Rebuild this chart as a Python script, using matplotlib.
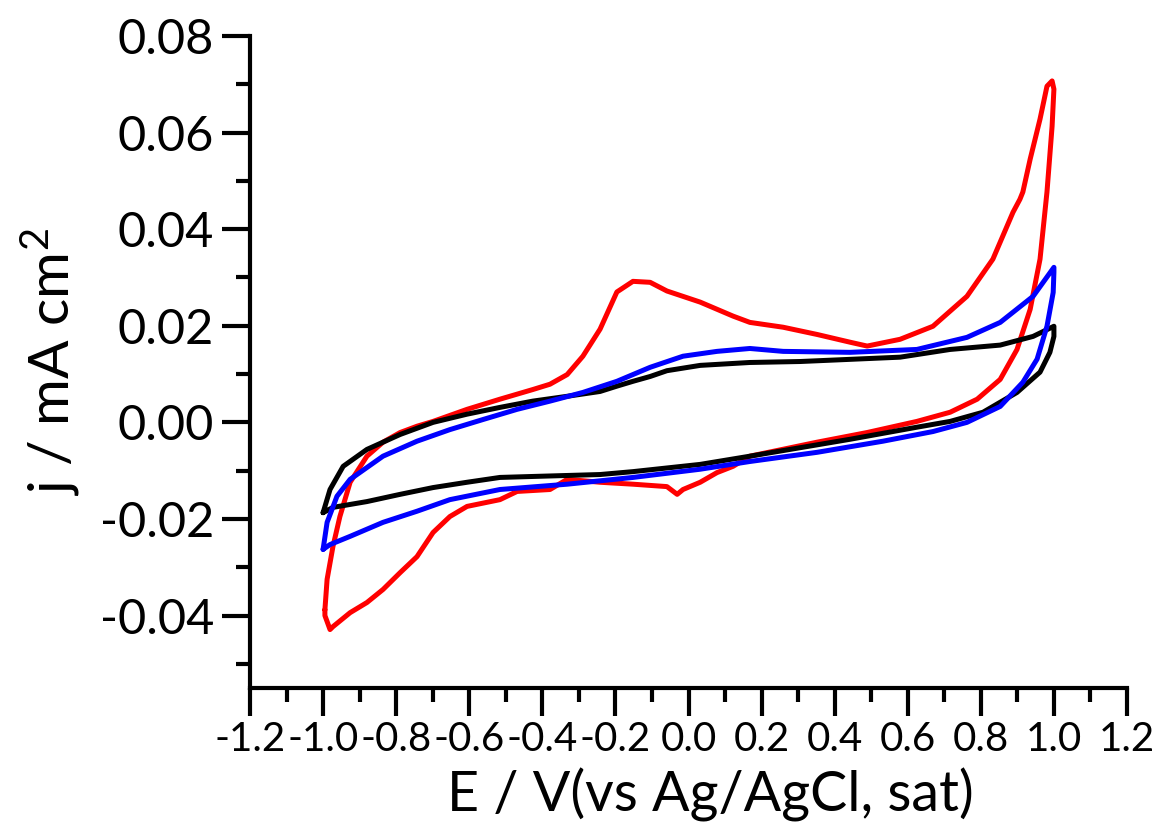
import numpy as np
import matplotlib
matplotlib.use("Agg")
from matplotlib import pyplot as plt
from matplotlib.ticker import MultipleLocator

plt.rcParams["font.family"] = ["Lato", "DejaVu Sans"]
plt.rcParams["mathtext.fontset"] = "custom"
plt.rcParams["mathtext.rm"] = "Lato"
plt.rcParams["mathtext.it"] = "Lato:italic"

# black loop (forward then reverse scan)
black_fwd_E = [-1.000, -0.981, -0.945, -0.880, -0.789, -0.699, -0.606, -0.516, -0.426,
               -0.332, -0.242, -0.196, -0.152, -0.105, -0.059, 0.032, 0.168, 0.305,
               0.579, 0.716, 0.853, 0.943, 1.000]
black_fwd_j = [-0.0187, -0.0139, -0.0091, -0.0056, -0.0025, 0.0000, 0.0017, 0.0031, 0.0044,
               0.0054, 0.0064, 0.0075, 0.0085, 0.0095, 0.0107, 0.0118, 0.0124, 0.0126,
               0.0135, 0.0151, 0.0160, 0.0178, 0.0199]
black_rev_E = [1.000, 0.989, 0.962, 0.899, 0.806, 0.716, 0.625, 0.442, 0.168, 0.032,
               -0.152, -0.242, -0.426, -0.516, -0.606, -0.699, -0.789, -0.880, -0.973, -1.000]
black_rev_j = [0.0178, 0.0145, 0.0104, 0.0062, 0.0021, 0.0002, -0.0010, -0.0035, -0.0070, -0.0087,
               -0.0102, -0.0108, -0.0112, -0.0114, -0.0124, -0.0135, -0.0149, -0.0164, -0.0176, -0.0187]

# blue loop
blue_fwd_E = [-1.000, -0.989, -0.962, -0.926, -0.836, -0.743, -0.653, -0.562, -0.469,
              -0.379, -0.289, -0.196, -0.105, -0.015, 0.078, 0.168, 0.259, 0.442,
              0.625, 0.762, 0.853, 0.943, 1.000]
blue_fwd_j = [-0.0263, -0.0207, -0.0153, -0.0118, -0.0070, -0.0039, -0.0015, 0.0006, 0.0027,
              0.0044, 0.0062, 0.0085, 0.0114, 0.0137, 0.0147, 0.0153, 0.0147, 0.0145,
              0.0151, 0.0176, 0.0207, 0.0261, 0.0321]
blue_rev_E = [1.000, 0.998, 0.981, 0.954, 0.915, 0.853, 0.762, 0.669, 0.532, 0.352, 0.168,
              0.032, -0.152, -0.332, -0.516, -0.653, -0.743, -0.836, -0.926, -0.981, -1.000]
blue_rev_j = [0.0311, 0.0269, 0.0199, 0.0131, 0.0083, 0.0033, 0.0000, -0.0019, -0.0039, -0.0062, -0.0081,
              -0.0097, -0.0114, -0.0128, -0.0139, -0.0160, -0.0184, -0.0207, -0.0236, -0.0253, -0.0263]

# red loop
red_fwd_E = [-0.995, -0.989, -0.973, -0.954, -0.926, -0.880, -0.836, -0.789, -0.743, -0.699,
             -0.606, -0.516, -0.426, -0.379, -0.332, -0.289, -0.242, -0.196, -0.152, -0.105,
             -0.059, 0.032, 0.122, 0.168, 0.259, 0.352, 0.442, 0.489, 0.579, 0.669, 0.762,
             0.833, 0.888, 0.907, 0.915, 0.935, 0.962, 0.981, 0.995]
red_fwd_j = [-0.0388, -0.0325, -0.0257, -0.0195, -0.0124, -0.0070, -0.0041, -0.0021, -0.0008, 0.0002,
             0.0027, 0.0048, 0.0068, 0.0079, 0.0099, 0.0137, 0.0193, 0.0270, 0.0292, 0.0290,
             0.0272, 0.0249, 0.0220, 0.0207, 0.0197, 0.0182, 0.0166, 0.0158, 0.0172, 0.0199, 0.0261,
             0.0338, 0.0435, 0.0462, 0.0477, 0.0545, 0.0628, 0.0696, 0.0707]
red_rev_E = [1.000, 0.995, 0.981, 0.962, 0.935, 0.899, 0.853, 0.790, 0.716, 0.625, 0.489,
             0.352, 0.168, 0.122, 0.078, 0.032, -0.015, -0.031, -0.059, -0.152, -0.242, -0.332,
             -0.379, -0.469, -0.516, -0.606, -0.653, -0.699, -0.743, -0.789, -0.836, -0.880,
             -0.926, -0.973, -0.981, -0.995]
red_rev_j = [0.0690, 0.0613, 0.0477, 0.0338, 0.0234, 0.0151, 0.0089, 0.0048, 0.0021, 0.0002, -0.0021,
             -0.0041, -0.0070, -0.0091, -0.0104, -0.0124, -0.0139, -0.0149, -0.0133, -0.0128, -0.0124, -0.0118,
             -0.0139, -0.0143, -0.0160, -0.0174, -0.0195, -0.0228, -0.0278, -0.0311, -0.0346, -0.0373,
             -0.0394, -0.0423, -0.0429, -0.0400]

x_ticks = [-1.2, -1.0, -0.8, -0.6, -0.4, -0.2, 0.0, 0.2, 0.4, 0.6, 0.8, 1.0, 1.2]
y_ticks = [-0.04, -0.02, 0.00, 0.02, 0.04, 0.06, 0.08]

curves = [
    (red_fwd_E + red_rev_E + red_fwd_E[:1], red_fwd_j + red_rev_j + red_fwd_j[:1], "#ff0000"),
    (black_fwd_E + black_rev_E, black_fwd_j + black_rev_j, "black"),
    (blue_fwd_E + blue_rev_E, blue_fwd_j + blue_rev_j, "#0000ff"),
]

fig = plt.figure(figsize=(11.64, 8.23), dpi=100)
ax = fig.add_axes([250 / 1164, 1 - 688 / 823, 877 / 1164, 652 / 823])

for E, j, color in curves:
    ax.plot(E, j, color=color, lw=3.6, solid_joinstyle="round", solid_capstyle="round")

ax.spines["top"].set_visible(False)
ax.spines["right"].set_visible(False)
for side in ["left", "bottom"]:
    ax.spines[side].set_linewidth(3)

ax.set_xticks(x_ticks)
ax.set_xticklabels([f"{v:.1f}" for v in x_ticks])
ax.set_yticks(y_ticks)
ax.set_yticklabels([f"{v:.2f}".replace("-0.00", "0.00") for v in y_ticks])
ax.xaxis.set_minor_locator(MultipleLocator(0.1))
ax.yaxis.set_minor_locator(MultipleLocator(0.01))
ax.set_xlim(-1.2, 1.2)
ax.set_ylim(-0.055, 0.08)

ax.tick_params(which="major", direction="out", length=20, width=3)
ax.tick_params(which="minor", direction="out", length=10, width=3)
ax.tick_params(axis="x", labelsize=29, pad=4)
ax.tick_params(axis="y", labelsize=35, pad=6)

ax.set_xlabel("E / V(vs Ag/AgCl, sat)", fontsize=40, labelpad=0)
ax.set_ylabel("j / mA cm$^\\mathrm{2}$", fontsize=41, labelpad=12)
ax.xaxis.set_label_coords(0.525, -0.122)

fig.savefig("out.png", dpi=100)
